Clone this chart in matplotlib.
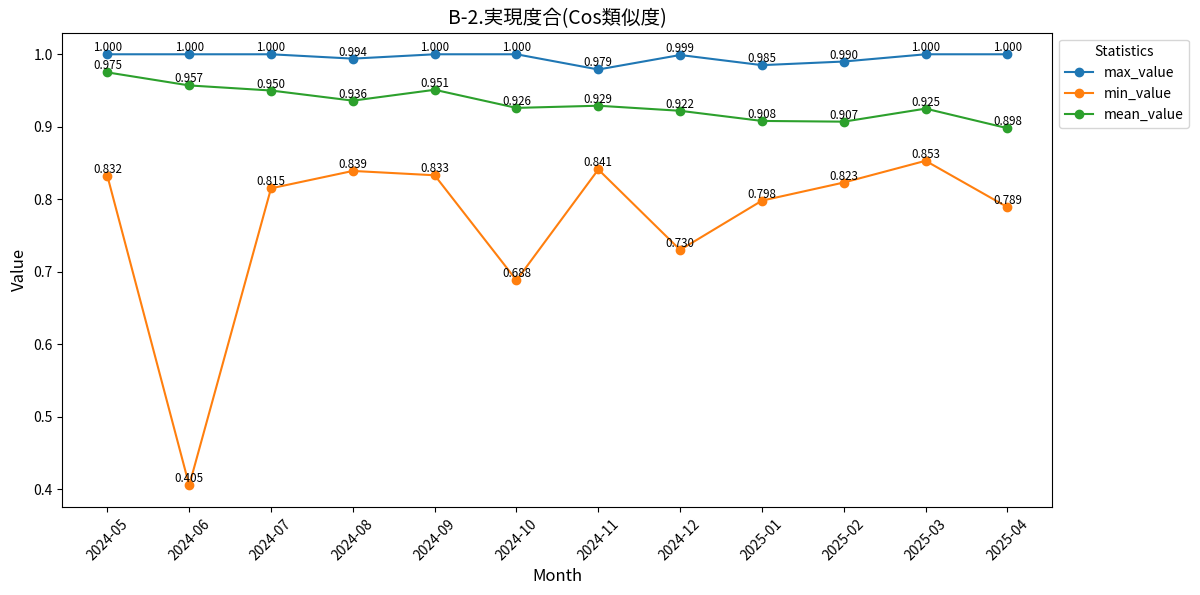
import matplotlib
matplotlib.use('Agg')
import matplotlib.pyplot as plt

plt.rcParams['font.family'] = ['Noto Sans CJK JP', 'DejaVu Sans']

months = ['2024-05', '2024-06', '2024-07', '2024-08', '2024-09', '2024-10',
          '2024-11', '2024-12', '2025-01', '2025-02', '2025-03', '2025-04']

max_value = [1.000, 1.000, 1.000, 0.994, 1.000, 1.000,
             0.979, 0.999, 0.985, 0.990, 1.000, 1.000]
min_value = [0.832, 0.405, 0.815, 0.839, 0.833, 0.688,
             0.841, 0.730, 0.798, 0.823, 0.853, 0.789]
mean_value = [0.975, 0.957, 0.950, 0.936, 0.951, 0.926,
              0.929, 0.922, 0.908, 0.907, 0.925, 0.898]

series = [('max_value', max_value), ('min_value', min_value), ('mean_value', mean_value)]

fig, ax = plt.subplots(figsize=(12, 5.95), dpi=100)

for name, vals in series:
    ax.plot(months, vals, marker='o', label=name)
    for i, v in enumerate(vals):
        ax.text(i, v, f'{v:.3f}', ha='center', va='bottom', fontsize=8.3)

ax.set_title('B-2.実現度合(Cos類似度)', fontsize=14)
ax.set_xlabel('Month', fontsize=12)
ax.set_ylabel('Value', fontsize=12)
ax.tick_params(axis='x', rotation=45)
ax.legend(title='Statistics', loc='upper left', bbox_to_anchor=(1.0, 1))

plt.subplots_adjust(left=0.052, right=0.877, top=0.945, bottom=0.148)
plt.savefig('out.png', dpi=100)
